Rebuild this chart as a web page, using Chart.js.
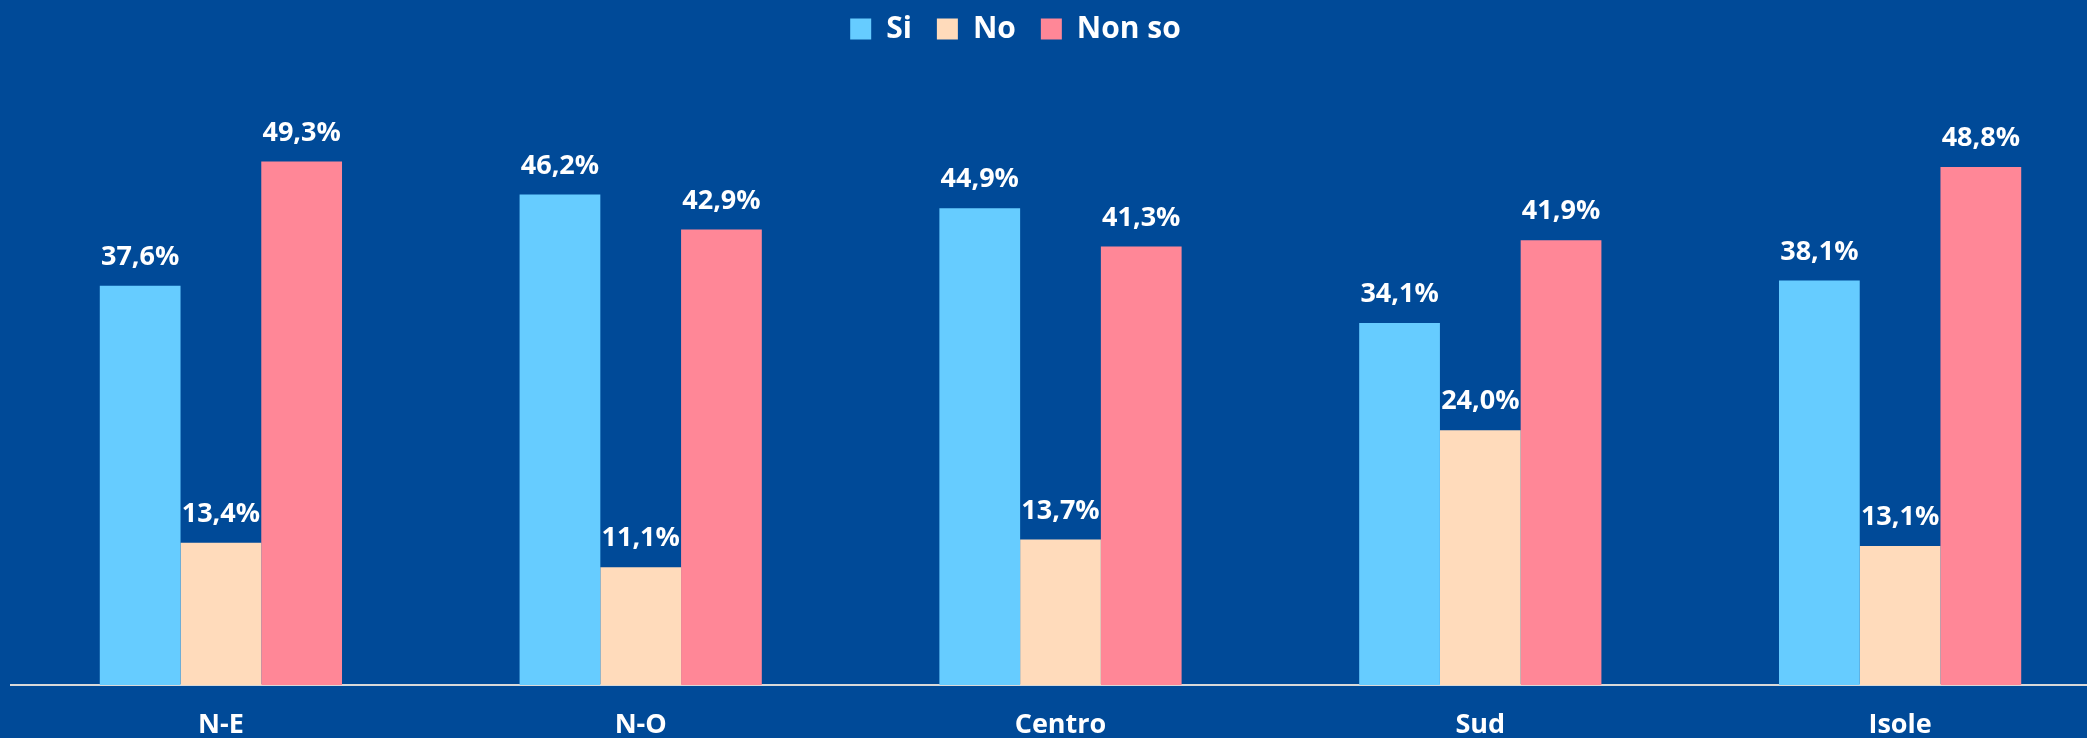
<!DOCTYPE html>
<html>
<head>
<meta charset="utf-8">
<script src="https://cdn.jsdelivr.net/npm/chart.js@4/dist/chart.umd.min.js"></script>
<style>
  html,body{margin:0;padding:0;background:#004a98;overflow:hidden;}
  #wrap{position:absolute;left:0;top:0;width:2110px;height:766px;}
</style>
</head>
<body>
<div id="wrap"><canvas id="c"></canvas></div>
<script>
/* ========= DATA ========= */
const CATEGORIES = ["N-E","N-O","Centro","Sud","Isole"];
const SI     = [37.6, 46.2, 44.9, 34.1, 38.1];
const NO     = [13.4, 11.1, 13.7, 24.0, 13.1];
const NON_SO = [49.3, 42.9, 41.3, 41.9, 48.8];

const FONT = "'Open Sans', 'DejaVu Sans', sans-serif";

/* ========= VALUE LABELS ========= */
const valueLabels = {
  id:"valueLabels",
  afterDatasetsDraw(chart){
    const ctx = chart.ctx;
    ctx.save();
    ctx.font = "bold 27px " + FONT;
    ctx.fillStyle = "#ffffff";
    ctx.textAlign = "center";
    ctx.textBaseline = "alphabetic";
    chart.data.datasets.forEach((ds,i)=>{
      chart.getDatasetMeta(i).data.forEach((bar,j)=>{
        const txt = ds.data[j].toFixed(1).replace(".",",") + "%";
        ctx.fillText(txt, bar.x, bar.y - 21);
      });
    });
    ctx.restore();
  }
};

/* legend sits left of the plot centre and close to the top in the original */
const legendShift = {
  id:"legendShift",
  afterLayout(chart){
    const l = chart.legend;
    l.left -= 45; l.right -= 45;
    l.top -= 11; l.bottom -= 11;
  }
};

new Chart(document.getElementById("c"),{
  type:"bar",
  data:{
    labels:CATEGORIES,
    datasets:[
      {label:"Si",     data:SI,     backgroundColor:"#66ccff"},
      {label:"No",     data:NO,     backgroundColor:"#ffdbbb"},
      {label:"Non so", data:NON_SO, backgroundColor:"#ff8797"}
    ]
  },
  options:{
    responsive:true,
    maintainAspectRatio:false,
    animation:false,
    layout:{padding:{left:11,right:0,top:0,bottom:0}},
    datasets:{bar:{categoryPercentage:0.577,barPercentage:1}},
    plugins:{
      legend:{
        position:"top",
        labels:{
          color:"#ffffff",
          font:{family:FONT,size:30,weight:"bold"},
          boxWidth:21,boxHeight:21,padding:25
        }
      },
      tooltip:{enabled:false}
    },
    scales:{
      x:{
        grid:{display:false,drawTicks:false},
        border:{display:true,color:"#d9d9d9",width:2},
        ticks:{color:"#ffffff",font:{family:FONT,size:27,weight:"bold",lineHeight:1},padding:27}
      },
      y:{
        display:false,
        min:0,max:58.4
      }
    }
  },
  plugins:[valueLabels,legendShift]
});
</script>
</body>
</html>
